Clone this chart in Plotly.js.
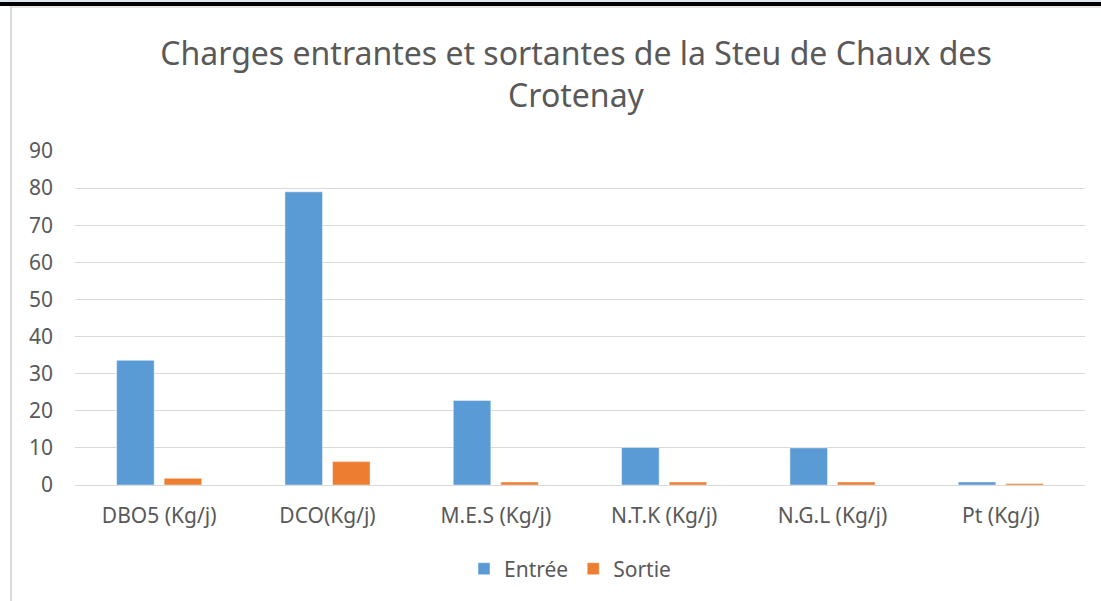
<!DOCTYPE html>
<html>
<head>
<meta charset="utf-8">
<script src="https://cdn.plot.ly/plotly-3.0.1.min.js"></script>
<style>
  html, body { margin: 0; padding: 0; background: #ffffff; }
  #wrap { position: relative; width: 1101px; height: 601px; overflow: hidden; }
  #chart { position: absolute; left: 0; top: 0; width: 1101px; height: 601px; }
  #topbar { position: absolute; left: 0; top: 0; width: 1101px; height: 2px; background: #dbe7f3; }
  #topblack { position: absolute; left: 0; top: 2px; width: 1101px; height: 4px; background: #000000; }
  #topgray { position: absolute; left: 10px; top: 6px; width: 1091px; height: 2px; background: #e6e6e6; }
  #leftgray { position: absolute; left: 10px; top: 6px; width: 2px; height: 595px; background: #d9d9d9; }
</style>
</head>
<body>
<div id="wrap">
  <div id="chart"></div>
  <div id="topbar"></div>
  <div id="topblack"></div>
  <div id="topgray"></div>
  <div id="leftgray"></div>
</div>
<script>
var categories = ["DBO5 (Kg/j)", "DCO(Kg/j)", "M.E.S (Kg/j)", "N.T.K (Kg/j)", "N.G.L (Kg/j)", "Pt (Kg/j)"];
var entree = [33.6, 79, 22.8, 10.1, 10, 0.8];
var sortie = [1.8, 6.3, 0.8, 0.8, 0.8, 0.4];
var tickVals = [0, 10, 20, 30, 40, 50, 60, 70, 80, 90];

var FONT = "Noto Sans, Open Sans, sans-serif";
var GREY = "#595959";

var traces = [
  {
    type: "bar", name: "Entrée", x: categories, y: entree,
    marker: { color: "#5B9BD5", line: { color: "rgba(255,255,255,0.45)", width: 1 } },
    hoverinfo: "skip"
  },
  {
    type: "bar", name: "Sortie", x: categories, y: sortie,
    marker: { color: "#ED7D31", line: { color: "rgba(255,255,255,0.45)", width: 1 } },
    hoverinfo: "skip"
  }
];

var layout = {
  width: 1101, height: 601,
  paper_bgcolor: "#ffffff", plot_bgcolor: "#ffffff",
  margin: { l: 75, r: 16, t: 151, b: 116, pad: 0 },
  font: { family: FONT, color: GREY, size: 21 },
  title: {
    text: "Charges entrantes et sortantes de la Steu de Chaux des<br>Crotenay",
    font: { family: FONT, size: 32, color: GREY },
    xref: "container", x: 576 / 1101, xanchor: "center",
    yref: "container", y: 1 - 65 / 601, yanchor: "middle"
  },
  barmode: "group",
  bargap: 0.435,
  bargroupgap: 0.21,
  xaxis: {
    type: "category",
    showgrid: false, zeroline: false, showline: false,
    ticks: "", ticklabelstandoff: 16,
    tickfont: { family: FONT, size: 21, color: GREY }
  },
  yaxis: {
    range: [0, 90],
    tickvals: tickVals,
    showgrid: true, gridcolor: "#d9d9d9", gridwidth: 1,
    zeroline: true, zerolinecolor: "#d9d9d9", zerolinewidth: 1,
    showline: false, ticks: "", ticklabelstandoff: 21,
    tickfont: { family: FONT, size: 21, color: GREY }
  },
  showlegend: true,
  legend: {
    orientation: "h",
    xref: "container", x: 570 / 1101, xanchor: "center",
    yref: "container", y: 1 - 569 / 601, yanchor: "middle",
    font: { family: FONT, size: 21, color: GREY },
    itemwidth: 30, traceorder: "normal"
  }
};

Plotly.newPlot("chart", traces, layout, { displayModeBar: false, staticPlot: true });
</script>
</body>
</html>
